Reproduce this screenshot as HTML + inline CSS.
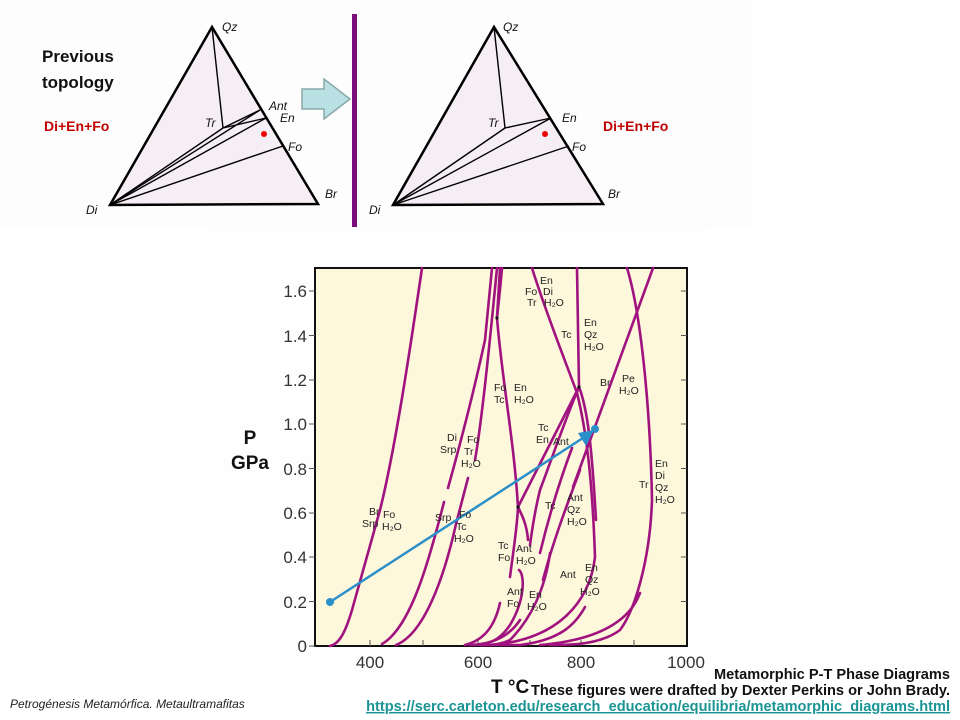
<!DOCTYPE html>
<html><head><meta charset="utf-8"><style>
html,body{margin:0;padding:0;background:#fff;width:960px;height:720px;overflow:hidden;font-family:"Liberation Sans",Arial,sans-serif}
svg{position:absolute;left:0;top:0}
</style></head><body>
<svg width="960" height="720" viewBox="0 0 960 720" xmlns="http://www.w3.org/2000/svg" font-family="Liberation Sans, Arial, sans-serif">
<rect x="0" y="0" width="960" height="720" fill="#fff"/>
<rect x="0" y="0" width="752" height="228" fill="#fdfdfd"/>
<rect x="208" y="228" width="497" height="462" fill="#fefefe"/>
<!-- left triangle -->
<polygon points="212,27 110,205 318,204" fill="#f6eef5" stroke="#000" stroke-width="2.5"/>
<g stroke="#000" stroke-width="1.4" fill="none">
<line x1="212" y1="27" x2="223" y2="128"/>
<line x1="223" y1="128" x2="260" y2="110"/>
<line x1="223" y1="128" x2="266" y2="118"/>
<line x1="110" y1="205" x2="223" y2="128"/>
<line x1="110" y1="205" x2="260" y2="110"/>
<line x1="110" y1="205" x2="266" y2="118"/>
<line x1="110" y1="205" x2="283" y2="146"/>
</g>
<circle cx="264" cy="134" r="3" fill="#e00"/>
<g font-style="italic" font-size="12" fill="#111">
<text x="222" y="31">Qz</text><text x="205" y="127">Tr</text><text x="269" y="110">Ant</text><text x="280" y="122">En</text><text x="288" y="151">Fo</text><text x="325" y="198">Br</text><text x="86" y="214">Di</text>
</g>
<text x="42" y="62" font-size="17" font-weight="bold" fill="#111">Previous</text>
<text x="42" y="88" font-size="17" font-weight="bold" fill="#111">topology</text>
<text x="44" y="131" font-size="14" font-weight="bold" fill="#c00000">Di+En+Fo</text>
<!-- arrow -->
<polygon points="302,89 324,89 324,79 350,99 324,119 324,109 302,109" fill="#b9e1e4" stroke="#8aa7a9" stroke-width="1.5"/>
<rect x="352" y="14" width="5" height="213" fill="#7a0f7c"/>
<!-- right triangle -->
<polygon points="494,27 393,205 603,204" fill="#f6eef5" stroke="#000" stroke-width="2.5"/>
<g stroke="#000" stroke-width="1.4" fill="none">
<line x1="494" y1="27" x2="505" y2="128"/>
<line x1="505" y1="128" x2="551" y2="118"/>
<line x1="393" y1="205" x2="505" y2="128"/>
<line x1="393" y1="205" x2="551" y2="118"/>
<line x1="393" y1="205" x2="569" y2="146"/>
</g>
<circle cx="545" cy="134" r="3" fill="#e00"/>
<g font-style="italic" font-size="12" fill="#111">
<text x="503" y="31">Qz</text><text x="488" y="127">Tr</text><text x="562" y="122">En</text><text x="572" y="151">Fo</text><text x="608" y="198">Br</text><text x="369" y="214">Di</text>
</g>
<text x="603" y="131" font-size="14" font-weight="bold" fill="#c00000">Di+En+Fo</text>
<!-- chart -->
<rect x="315" y="268" width="372" height="378" fill="#fdf7dc" stroke="#111" stroke-width="2"/>
<g stroke="#555" stroke-width="1">
<line x1="309" y1="291" x2="315" y2="291"/><line x1="309" y1="335.5" x2="315" y2="335.5"/><line x1="309" y1="380" x2="315" y2="380"/><line x1="309" y1="424" x2="315" y2="424"/><line x1="309" y1="468.5" x2="315" y2="468.5"/><line x1="309" y1="513" x2="315" y2="513"/><line x1="309" y1="557" x2="315" y2="557"/><line x1="309" y1="601.5" x2="315" y2="601.5"/><line x1="309" y1="646" x2="315" y2="646"/>
<line x1="681" y1="291" x2="687" y2="291"/><line x1="681" y1="335.5" x2="687" y2="335.5"/><line x1="681" y1="380" x2="687" y2="380"/><line x1="681" y1="424" x2="687" y2="424"/><line x1="681" y1="468.5" x2="687" y2="468.5"/><line x1="681" y1="513" x2="687" y2="513"/><line x1="681" y1="557" x2="687" y2="557"/><line x1="681" y1="601.5" x2="687" y2="601.5"/>
<line x1="370" y1="646" x2="370" y2="640"/><line x1="423" y1="646" x2="423" y2="640"/><line x1="478" y1="646" x2="478" y2="640"/><line x1="530" y1="646" x2="530" y2="640"/><line x1="581" y1="646" x2="581" y2="640"/><line x1="634" y1="646" x2="634" y2="640"/>
</g>
<g font-size="17" fill="#333" text-anchor="end">
<text x="307" y="297">1.6</text><text x="307" y="342">1.4</text><text x="307" y="386">1.2</text><text x="307" y="430">1.0</text><text x="307" y="475">0.8</text><text x="307" y="519">0.6</text><text x="307" y="563">0.4</text><text x="307" y="608">0.2</text><text x="307" y="652">0</text>
</g>
<g font-size="17" fill="#333" text-anchor="middle">
<text x="370" y="668">400</text><text x="478" y="668">600</text><text x="581" y="668">800</text><text x="686" y="668">1000</text>
</g>
<text x="250" y="444" font-size="19" font-weight="bold" text-anchor="middle" fill="#111">P</text>
<text x="250" y="469" font-size="19" font-weight="bold" text-anchor="middle" fill="#111">GPa</text>
<text x="491" y="693" font-size="19" font-weight="bold" fill="#111">T °C</text>
<!-- curves -->
<g stroke="#a0137f" stroke-width="2.6" fill="none" stroke-linecap="round">
<path d="M330,646 C340,644 346,630 352,610 L380,510 C395,450 410,350 422,268"/>
<path d="M382,644 C410,628 428,565 444,502 M448,488 C458,452 472,400 485,340 L492,268"/>
<path d="M396,645 C424,634 444,578 456,524 L468,478 M475,460 C482,420 490,340 497,268"/>
<path d="M500,268 L497,318 C502,380 514,440 518,507 C517,530 512,560 510,577"/>
<path d="M497,318 C500,290 501,280 502,268"/>
<path d="M518,507 C522,515 527,525 528,540"/>
<path d="M518,507 L579,387"/>
<path d="M532,268 C545,310 563,355 577,393 C585,425 592,470 595,557"/>
<path d="M577,268 L579,387 C588,410 592,450 596,520"/>
<path d="M579,387 C565,420 555,450 540,490 C535,510 532,530 530,545"/>
<path d="M627,268 C640,310 650,400 652,500 C650,560 635,610 620,630 C600,645 570,645 550,645"/>
<path d="M653,268 L573,487"/>
<path d="M540,553 C548,520 560,480 572,448"/>
<path d="M543,580 C552,545 565,510 580,470"/>
<path d="M500,603 C495,625 485,640 465,645"/>
<path d="M519,570 C525,575 525,600 510,625 C500,640 490,644 475,645"/>
<path d="M550,553 C545,590 530,620 510,640 C500,645 490,645 480,645"/>
<path d="M585,607 C575,625 560,640 520,645 L480,645"/>
<path d="M595,557 C590,600 560,640 490,645"/>
<path d="M640,593 C630,620 600,640 540,645"/>
<path d="M520,620 C510,635 495,644 470,645"/>
</g>
<g fill="#111"><circle cx="497" cy="318" r="1.6"/><circle cx="518" cy="507" r="1.6"/><circle cx="579" cy="387" r="1.6"/></g>
<!-- blue arrow -->
<line x1="330" y1="602" x2="586" y2="436" stroke="#2b8fc9" stroke-width="2.5"/>
<polygon points="594,430 578,433 586,446" fill="#2b8fc9"/>
<circle cx="330" cy="602" r="4" fill="#2b8fc9"/>
<circle cx="595" cy="429" r="4" fill="#2b8fc9"/>
<!-- labels -->
<g font-size="10.5" fill="#222">
<text x="540" y="284">En</text><text x="525" y="295">Fo</text><text x="543" y="295">Di</text><text x="527" y="306">Tr</text><text x="544" y="306">H₂O</text>
<text x="584" y="326">En</text><text x="561" y="338">Tc</text><text x="584" y="338">Qz</text><text x="584" y="350">H₂O</text>
<text x="494" y="391">Fo</text><text x="514" y="391">En</text><text x="494" y="403">Tc</text><text x="514" y="403">H₂O</text>
<text x="600" y="386">Br</text><text x="622" y="382">Pe</text><text x="619" y="394">H₂O</text>
<text x="538" y="431">Tc</text><text x="536" y="443">En</text><text x="553" y="445">Ant</text>
<text x="447" y="441">Di</text><text x="440" y="453">Srp</text><text x="467" y="443">Fo</text><text x="464" y="455">Tr</text><text x="461" y="467">H₂O</text>
<text x="655" y="467">En</text><text x="655" y="479">Di</text><text x="639" y="488">Tr</text><text x="655" y="491">Qz</text><text x="655" y="503">H₂O</text>
<text x="567" y="501">Ant</text><text x="545" y="509">Tc</text><text x="567" y="513">Qz</text><text x="567" y="525">H₂O</text>
<text x="369" y="515">Br</text><text x="362" y="527">Srp</text><text x="383" y="518">Fo</text><text x="382" y="530">H₂O</text>
<text x="435" y="521">Srp</text><text x="459" y="518">Fo</text><text x="456" y="530">Tc</text><text x="454" y="542">H₂O</text>
<text x="498" y="549">Tc</text><text x="516" y="552">Ant</text><text x="498" y="561">Fo</text><text x="516" y="564">H₂O</text>
<text x="585" y="571">En</text><text x="560" y="578">Ant</text><text x="585" y="583">Qz</text><text x="580" y="595">H₂O</text>
<text x="507" y="595">Ant</text><text x="529" y="598">En</text><text x="507" y="607">Fo</text><text x="527" y="610">H₂O</text>
</g>
<!-- bottom texts -->
<text x="950" y="679" font-size="14.6" font-weight="bold" text-anchor="end" fill="#111">Metamorphic P-T Phase Diagrams</text>
<text x="950" y="695" font-size="14.6" font-weight="bold" text-anchor="end" fill="#111">These figures were drafted by Dexter Perkins or John Brady.</text>
<text x="950" y="711" font-size="14.6" font-weight="bold" text-anchor="end" fill="#1a9494" text-decoration="underline">https://serc.carleton.edu/research_education/equilibria/metamorphic_diagrams.html</text>
<text x="10" y="708" font-size="12" font-style="italic" fill="#222">Petrogénesis  Metamórfica.  Metaultramafitas</text>
</svg>
</body></html>
